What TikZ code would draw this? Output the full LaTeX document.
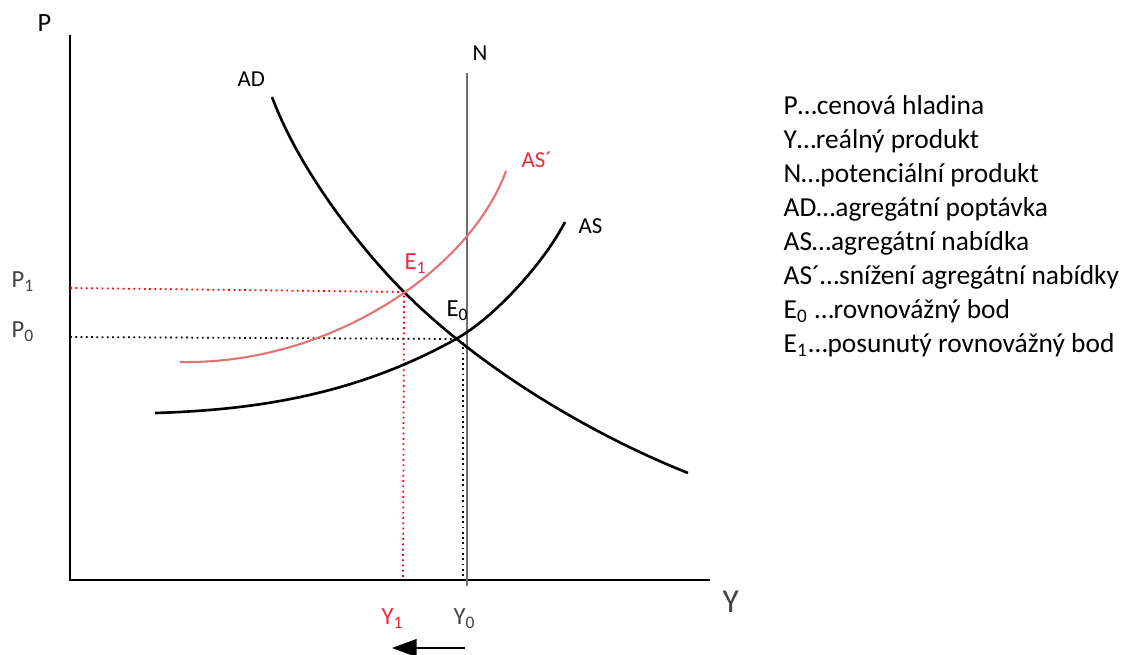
\documentclass[tikz,border=0pt]{standalone}
\usepackage{fontspec}
\setmainfont{Carlito}
\usetikzlibrary{arrows.meta}
\definecolor{curveRed}{HTML}{E57373}
\definecolor{labelRed}{HTML}{EE2A3A}
\definecolor{potGray}{HTML}{6E6E6E}

\begin{document}
\begin{tikzpicture}[x=0.01cm, y=-0.01cm,
    lbl/.style={anchor=base west, inner sep=0pt, font=\fontsize{6.5}{8}\selectfont},
    leg/.style={anchor=base west, inner sep=0pt, font=\fontsize{7.8}{9}\selectfont}]
    \useasboundingbox (0,0) rectangle (1133,655);
    % axes
    \draw[line width=0.7pt] (70,35) -- (70,580) -- (710,580);
    \node[lbl, font=\fontsize{7.5}{9}\selectfont] (pAxis) at (37,32) {P};
    \node[lbl, font=\fontsize{9.5}{11}\selectfont, potGray!60!black] (yAxis) at (722,613) {Y};
    % potential output
    \draw[potGray, line width=0.6pt] (467,73) -- (467,586);
    \node[lbl] (nLbl) at (472,61) {N};
    % equilibrium points
    \coordinate (E1) at (404,292);
    \coordinate (E0) at (456,339);
    % guide lines
    \draw[red, densely dotted, line width=0.5pt] (70,288) -- (E1) -- (403,580);
    \draw[black, densely dotted, line width=0.5pt] (70,337) -- (E0);
    \draw[black, densely dotted, line width=0.5pt] (463,342) -- (463,580);
    % curves
    \draw[line width=0.75pt] (272,97) .. controls (300,172) and (362,250) .. (E1)
        .. controls (480,368) and (590,434) .. (688,473);
    \draw[line width=0.75pt] (155,413) .. controls (255,410) and (356,395) .. (E0)
        .. controls (496,316.6) and (545,261) .. (565,222);
    \draw[curveRed, line width=0.6pt] (180,362) .. controls (330,365) and (470,270) .. (506,171);
    \node[lbl] (adLbl) at (237,87) {AD};
    \node[lbl] (asLbl) at (578,234) {AS};
    \node[lbl, labelRed] (as2Lbl) at (521,168) {AS´};
    \node[lbl, labelRed, font=\fontsize{7}{8}\selectfont] (e1Lbl) at (404,270) {E\textsubscript{1}};
    \node[lbl, font=\fontsize{7}{8}\selectfont] (e0Lbl) at (446,317) {E\textsubscript{0}};
    \node[lbl, font=\fontsize{7}{8}\selectfont, potGray!60!black] (p1Lbl) at (11,288) {P\textsubscript{1}};
    \node[lbl, font=\fontsize{7}{8}\selectfont, potGray!60!black] (p0Lbl) at (11,338) {P\textsubscript{0}};
    \node[lbl, font=\fontsize{7}{8}\selectfont, labelRed] (y1Lbl) at (381,625) {Y\textsubscript{1}};
    \node[lbl, font=\fontsize{7}{8}\selectfont, potGray!60!black] (y0Lbl) at (453,625) {Y\textsubscript{0}};
    % shift of output
    \coordinate (arrFrom) at (465,648);
    \coordinate (arrTo) at (392,648);
    \draw[line width=0.6pt, -{Triangle[length=7pt, width=5pt]}] (arrFrom) -- (arrTo);
    % legend
    \foreach \txt [count=\i] in {P…cenová hladina, Y…reálný produkt, N…potenciální produkt,
        AD…agregátní poptávka, AS…agregátní nabídka, AS´…snížení agregátní nabídky,
        E\textsubscript{0} …rovnovážný bod, E\textsubscript{1}…posunutý rovnovážný bod}
        \node[leg] (leg\i) at (783,{115+34*(\i-1)}) {\txt};
\end{tikzpicture}
\end{document}
